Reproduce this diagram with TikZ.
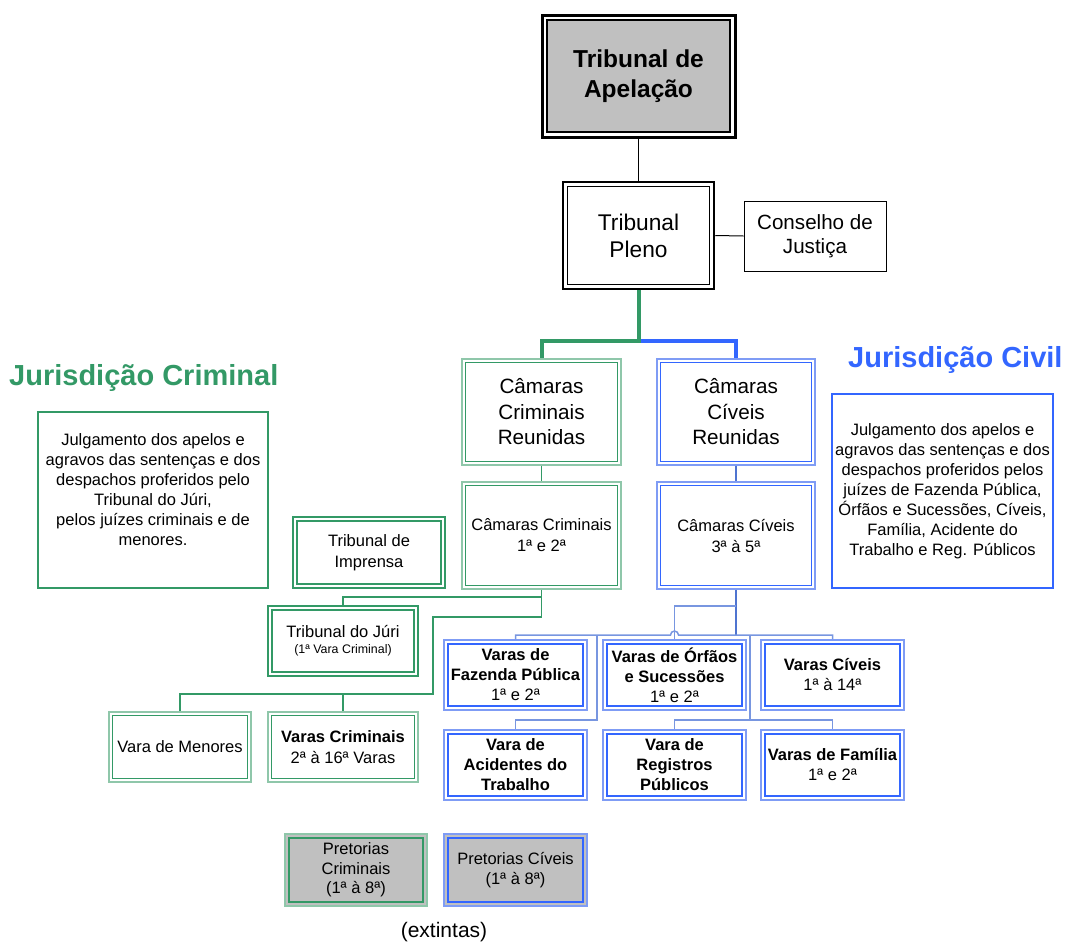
\documentclass[tikz,border=0pt]{standalone}
\usepackage{fontspec}
\setmainfont{Liberation Sans}

\definecolor{crim}{HTML}{339966}
\definecolor{crimlt}{HTML}{8FC7AA}
\definecolor{civ}{HTML}{3366FF}
\definecolor{civlt}{HTML}{7F9CF5}
\definecolor{civlink}{HTML}{4F74D0}
\definecolor{civlinklt}{HTML}{7896E0}
\definecolor{shade}{HTML}{C0C0C0}

\newcommand\fsz[2]{\fontsize{#1}{#2}\selectfont}

\tikzset{
  box/.style={rectangle, align=center, inner sep=0pt, fill=white, font=\fsz{16.5}{21}},
  sz/.style args={#1/#2}{minimum width=#1pt, minimum height=#2pt},
  % outer frame colour/width, inner frame colour/width, inset, inner fill
  twin/.style args={#1/#2/#3/#4/#5/#6}{draw=#1, line width=#2,
    path picture={\filldraw[draw=#3, line width=#4, fill=#6]
      ([shift={(#5,-#5)}]path picture bounding box.north west) rectangle
      ([shift={(-#5,#5)}]path picture bounding box.south east);}},
  critthin/.style={twin={crimlt/1.2pt/crim/1.2pt/3.5pt/white}},
  critthick/.style={twin={crim/2pt/crim/2pt/4pt/white}},
  civthin/.style={twin={civlt/1.2pt/civ/1.2pt/3.5pt/white}},
  civthick/.style={twin={civlt/1.5pt/civ/2pt/4pt/white}},
  crimline/.style={draw=crim, line width=1.5pt},
  civline/.style={draw=civlinklt, line width=1.5pt},
  civtrunk/.style={draw=civlink, line width=1.5pt},
  blackline/.style={draw=black, line width=1pt},
}

\begin{document}
\begin{tikzpicture}[x=1pt,y=-1pt]
\useasboundingbox (0,0) rectangle (1066,943);

% ---- top of the hierarchy
\node[box, twin={black/3pt/black/1.5pt/5pt/shade}, sz=193/122,
      font={\fsz{24.5}{30}\bfseries}] (apel) at (638.5,76) {Tribunal de\\Apelação};
\node[box, twin={black/2.5pt/black/1.5pt/4.5pt/white}, sz=151/107,
      font=\fsz{22.7}{27}] (pleno) at (638.5,235.5) {Tribunal\\Pleno};
\node[box, draw, line width=1pt, sz=142/70, font=\fsz{20.6}{24}] (cons) at (815,236) {Conselho de\\Justiça};

% ---- headings
\node[anchor=base west, inner sep=0pt, text=crim, font={\fsz{29}{34}\bfseries}] (jcrim) at (9,385) {Jurisdição Criminal};
\node[anchor=base west, inner sep=0pt, text=civ, font={\fsz{29}{34}\bfseries}] (jciv) at (848,367) {Jurisdição Civil};

% ---- chambers
\node[box, critthin, sz=159/106, font=\fsz{20.7}{25.5}] (ccr) at (541.5,412) {Câmaras\\Criminais\\Reunidas};
\node[box, civthin, sz=158/106, font=\fsz{20.7}{25.5}] (cvr) at (736,412) {Câmaras\\Cíveis\\Reunidas};
\node[box, critthin, sz=159/107] (cc) at (541.5,535.5) {Câmaras Criminais\\1ª e 2ª};
\node[box, civthin, sz=158/107] (cv) at (736,535.5) {Câmaras Cíveis\\3ª à 5ª};

% ---- description boxes
\node[box, draw=crim, line width=2pt, sz=230/176] (dcrim) at (153,500) {};
\node[align=center, inner sep=0pt, font=\fsz{16.5}{20}] (dcrimtext) at ([yshift=10.5pt]dcrim.center)
  {Julgamento dos apelos e\\agravos das sentenças e dos\\despachos proferidos pelo\\Tribunal do Júri,\\pelos juízes criminais e de\\menores.};
\node[box, draw=civ, line width=2pt, sz=221/194, font=\fsz{16.5}{20}] (dciv) at (942.5,491)
  {Julgamento dos apelos e\\agravos das sentenças e dos\\despachos proferidos pelos\\juízes de Fazenda Pública,\\Órfãos e Sucessões, Cíveis,\\Família, Acidente do\\Trabalho e Reg. Públicos};

% ---- criminal branch
\node[box, critthick, sz=152/71] (impr) at (369,552.5) {Tribunal de\\Imprensa};
\node[box, critthick, sz=150/70, font=\fsz{16.5}{17}] (juri) at (343,641)
  {Tribunal do Júri\\[-1pt]{\fsz{12.4}{15}(1ª Vara Criminal)}};
\node[box, critthin, sz=142/70] (menores) at (180,747) {Vara de Menores};
\node[box, critthin, sz=150/70] (vcrim) at (343,747) {\textbf{Varas Criminais}\\2ª à 16ª Varas};

% ---- civil branch
\node[box, civthick, sz=143/70, font=\fsz{16.5}{20}] (faz) at (515.5,675) {\textbf{Varas de}\\\textbf{Fazenda Pública}\\1ª e 2ª};
\node[box, civthick, sz=143/70, font=\fsz{16.5}{20}] (orf) at (674.5,675) {\textbf{Varas de Órfãos}\\\textbf{e Sucessões}\\1ª e 2ª};
\node[box, civthick, sz=143/70, font=\fsz{16.5}{20}] (vciv) at (832.5,675) {\textbf{Varas Cíveis}\\1ª à 14ª};
\node[box, civthick, sz=143/70, font={\fsz{16.5}{20}\bfseries}] (acid) at (515.5,765) {Vara de\\Acidentes do\\Trabalho};
\node[box, civthick, sz=143/70, font={\fsz{16.5}{20}\bfseries}] (reg) at (674.5,765) {Vara de\\Registros\\Públicos};
\node[box, civthick, sz=143/70, font=\fsz{16.5}{20}] (fam) at (832.5,765) {\textbf{Varas de Família}\\1ª e 2ª};

% ---- extinct courts
\node[box, fill=shade, twin={crimlt/1.5pt/crim/1.5pt/4pt/shade}, sz=142/72, font=\fsz{16.5}{19.5}] (pcrim) at (356,870) {Pretorias\\Criminais\\(1ª à 8ª)};
\node[box, fill=shade, twin={civlt/1.5pt/civ/1.5pt/4pt/shade}, sz=143/72, font=\fsz{16.5}{19.5}] (pciv) at (515.5,870) {Pretorias Cíveis\\(1ª à 8ª)};
\node[font=\fsz{21}{24}, inner sep=0pt] (ext) at (444,932) {(extintas)};

% ---- connectors: top
\draw[blackline] (apel.south) -- (pleno.north);
\draw[blackline] (pleno.east) -- (cons.west);
\coordinate (split) at (638.5,341);
\draw[civ, line width=4pt] (split) -| (cvr.north);
\draw[crim, line width=4pt] (pleno.south) -- (split) -| (ccr.north);
\draw[crimline] (ccr.south) -- (cc.north);
\draw[civtrunk] (cvr.south) -- (cv.north);

% ---- connectors: criminal
\coordinate (cj1) at (541.5,597);
\coordinate (cj2) at (541.5,617);
\coordinate (cj3) at (433,617);
\coordinate (cj4) at (433,694);
\draw[crimline] (cc.south) -- (cj2) -- (cj3) -- (cj4) -| (menores.north);
\draw[crimline] (cj1) -| (juri.north);
\draw[crimline] (vcrim.north) -- (vcrim.north |- cj4);

% ---- connectors: civil
\coordinate (vb) at (736,635);
\coordinate (vj) at (736,606);
\draw[civtrunk] (cv.south) -- (vb);
\draw[civline] (vj) -| (orf.north);
\draw[civline] (faz.north) -- (faz.north |- vb) -- ([xshift=-4pt]orf.north |- vb)
  arc[start angle=180, end angle=0, radius=4pt] -- (vciv.north |- vb) -- (vciv.north);
\coordinate (ja) at (597,635);
\coordinate (jb) at (597,720);
\coordinate (jc) at (750,635);
\coordinate (jd) at (750,720);
\draw[civline] (ja) -- (jb) -| (acid.north);
\draw[civline] (jc) -- (jd);
\draw[civline] (reg.north) -- (reg.north |- jd) -- (fam.north |- jd) -- (fam.north);
\end{tikzpicture}
\end{document}
